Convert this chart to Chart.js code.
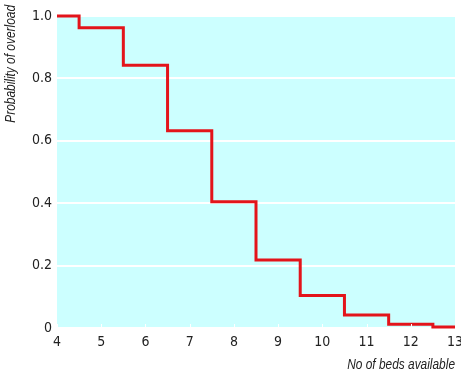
<!DOCTYPE html>
<html><head><meta charset="utf-8">
<script src="https://cdn.jsdelivr.net/npm/chart.js@4/dist/chart.umd.min.js"></script>
<style>html,body{margin:0;padding:0;background:#fff;}#wrap{width:461px;height:373px;}</style>
</head><body><div id="wrap"><canvas id="c" width="461" height="373"></canvas></div>
<script>
const bedsStart = [4, 4.5, 5.5, 6.5, 7.5, 8.5, 9.5, 10.5, 11.5, 12.5, 13];
const probOverload = [1.0, 0.962, 0.842, 0.632, 0.405, 0.218, 0.104, 0.042, 0.012, 0.003, 0.003];
const xTicks = [4, 5, 6, 7, 8, 9, 10, 11, 12, 13];
const yTicks = [0, 0.2, 0.4, 0.6, 0.8, 1.0];
const xTitle = 'No of beds available';
const yTitle = 'Probability of overload';

const FONT = "'DejaVu Sans Condensed','Liberation Sans',sans-serif";
const TFONT = "italic 14px 'Liberation Sans', Arial, sans-serif";

const bgPlugin = {
  id: 'bg',
  beforeDraw(chart) {
    const {ctx, chartArea: a} = chart;
    ctx.save();
    ctx.fillStyle = '#ccffff';
    ctx.fillRect(a.left, a.top, a.right - a.left, a.bottom - a.top);
    ctx.restore();
  },
  afterDatasetsDraw(chart) {
    const {ctx, chartArea: a, scales} = chart;
    ctx.save();
    ctx.strokeStyle = '#ffffff';
    ctx.lineWidth = 1;
    xTicks.forEach(v => {
      const px = Math.round(scales.x.getPixelForValue(v)) + 0.5;
      ctx.beginPath(); ctx.moveTo(px, a.bottom); ctx.lineTo(px, a.bottom - 4); ctx.stroke();
    });
    ctx.restore();
  },
  afterDraw(chart) {
    const {ctx, chartArea: a} = chart;
    ctx.save();
    ctx.fillStyle = '#222';
    ctx.font = TFONT;
    ctx.save();
    ctx.translate(a.right, 369);
    ctx.scale(0.85, 1);
    ctx.textAlign = 'right';
    ctx.textBaseline = 'alphabetic';
    ctx.fillText(xTitle, 0, 0);
    ctx.restore();
    ctx.save();
    ctx.translate(15, 5);
    ctx.rotate(-Math.PI / 2);
    ctx.scale(0.85, 1);
    ctx.textAlign = 'right';
    ctx.textBaseline = 'alphabetic';
    ctx.fillText(yTitle, 0, 0);
    ctx.restore();
    ctx.restore();
  }
};

new Chart(document.getElementById('c'), {
  type: 'line',
  data: {
    datasets: [{
      data: bedsStart.map((x, i) => ({x: x, y: probOverload[i]})),
      borderColor: '#e3141b',
      borderWidth: 3,
      pointRadius: 0,
      stepped: 'before',
      fill: false,
      clip: false
    }]
  },
  options: {
    responsive: false,
    animation: false,
    devicePixelRatio: 1,
    layout: {padding: {top: 16, right: 6, left: 0, bottom: 0}},
    plugins: {legend: {display: false}, tooltip: {enabled: false}},
    scales: {
      x: {
        type: 'linear', min: 4, max: 13,
        afterBuildTicks(s) { s.ticks = xTicks.map(v => ({value: v})); },
        afterFit(s) { s.height = 45; s.paddingLeft = 0; s.paddingRight = 0; },
        grid: {display: false, drawTicks: false},
        border: {display: false},
        ticks: {color: '#222', font: {family: FONT, size: 14}, padding: 6,
          callback: v => String(v)},
        title: {display: false}
      },
      y: {
        type: 'linear', min: 0, max: 1,
        afterBuildTicks(s) { s.ticks = yTicks.map(v => ({value: v})); },
        afterFit(s) { s.width = 57; s.paddingTop = 0; s.paddingBottom = 0; },
        grid: {color: '#ffffff', lineWidth: 2, drawTicks: false},
        border: {display: false},
        ticks: {color: '#222', font: {family: FONT, size: 14}, padding: 5,
          callback: v => v === 0 ? '0' : v.toFixed(1)},
        title: {display: false}
      }
    }
  },
  plugins: [bgPlugin]
});
</script></body></html>
